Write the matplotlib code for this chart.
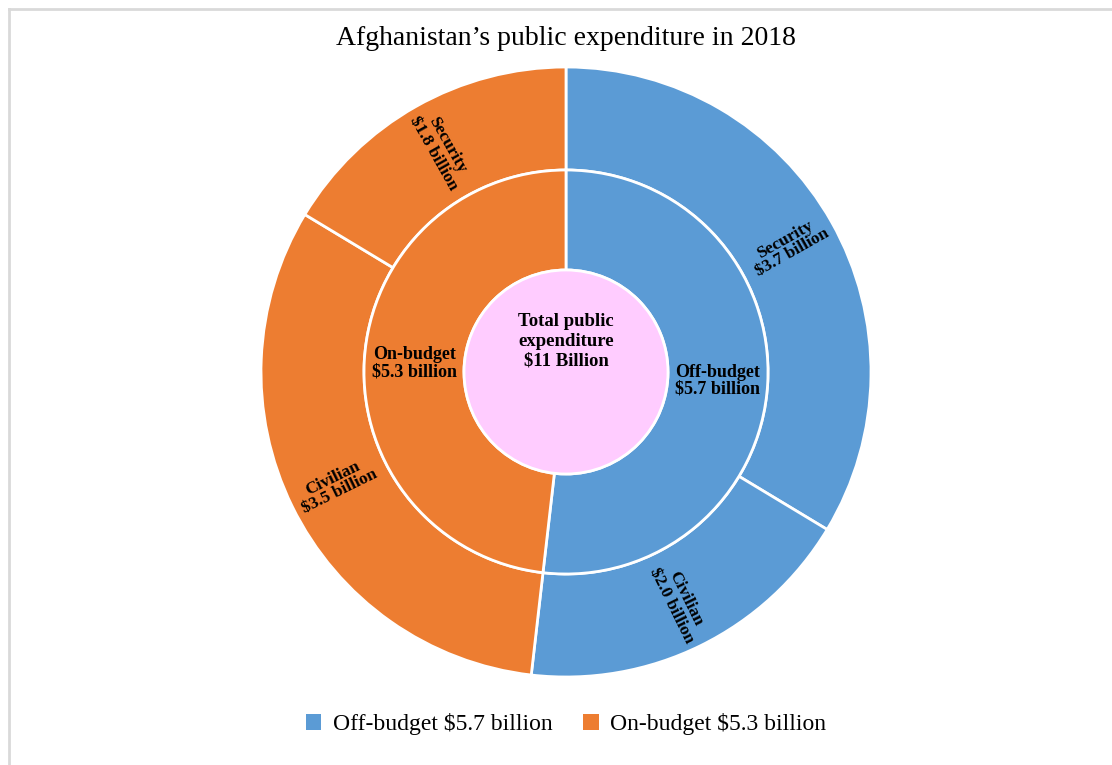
import numpy as np
import matplotlib.pyplot as plt
from matplotlib.patches import Patch, Circle
from matplotlib.lines import Line2D

# data
title = 'Afghanistan\u2019s public expenditure in 2018'
inner_names = ['Off-budget', 'On-budget']
inner_values = [5.7, 5.3]
outer_names = ['Security', 'Civilian', 'Civilian', 'Security']
outer_values = [3.7, 2.0, 3.5, 1.8]
outer_parent = [0, 0, 1, 1]
total_value = 11
center_text = 'Total public\nexpenditure\n$11 Billion'

# style
colors = ['#5B9BD5', '#ED7D31']
pink = '#FFCCFF'
serif = ['Liberation Serif', 'DejaVu Serif']

W, H = 1112, 765
cx, cy = 566, 765 - 372
r_out, r_mid, r_in = 305, 202, 102

fig = plt.figure(figsize=(W / 100, H / 100), dpi=100)
ax = fig.add_axes([0, 0, 1, 1])

# outer ring
ax.pie(outer_values, radius=r_out, center=(cx, cy), startangle=90, counterclock=False,
       colors=[colors[p] for p in outer_parent],
       wedgeprops=dict(width=r_out - r_mid, edgecolor='white', linewidth=2))
# inner ring
ax.pie(inner_values, radius=r_mid, center=(cx, cy), startangle=90, counterclock=False,
       colors=colors,
       wedgeprops=dict(width=r_mid - r_in, edgecolor='white', linewidth=2))
ax.add_patch(Circle((cx, cy), r_in, facecolor=pink, edgecolor='white', linewidth=2, zorder=3))

ax.set_xlim(0, W)
ax.set_ylim(0, H)
ax.set_aspect('equal')
ax.axis('off')

# outer labels, radial
tot = sum(outer_values)
start = 0
for name, v in zip(outer_names, outer_values):
    mid = start + v / 2
    start += v
    ang = 90 - mid / tot * 360
    ang = (ang + 180) % 360 - 180
    rot = ang if abs(ang) <= 90 else ang - 180
    r = 256
    x = cx + r * np.cos(np.radians(ang))
    y = cy + r * np.sin(np.radians(ang))
    ax.text(x, y, '%s\n$%.1f billion' % (name, v), rotation=rot, rotation_mode='anchor',
            ha='center', va='center', fontsize=12.5, fontweight='bold', family=serif,
            linespacing=0.95, zorder=4)

# inner labels
tot = sum(inner_values)
start = 0
for name, v in zip(inner_names, inner_values):
    mid = start + v / 2
    start += v
    ang = 90 - mid / tot * 360
    r = (r_mid + r_in) / 2
    x = cx + r * np.cos(np.radians(ang))
    y = cy + r * np.sin(np.radians(ang))
    ax.text(x, y, '%s\n$%.1f billion' % (name, v), ha='center', va='center',
            fontsize=13, fontweight='bold', family=serif, linespacing=1.0, zorder=4)

ax.text(cx, cy + 31, center_text, ha='center', va='center', fontsize=13.5,
        fontweight='bold', family=serif, linespacing=1.2, zorder=4)

ax.text(cx, H - 38, title, ha='center', va='center', fontsize=20, family=serif)

handles = [Patch(facecolor=colors[i], label='%s $%.1f billion' % (inner_names[i], inner_values[i]))
           for i in range(2)]
fig.legend(handles=handles, loc='center', bbox_to_anchor=(cx / W, 41 / H), ncol=2,
           frameon=False, prop=dict(family=serif, size=17), handlelength=0.65,
           handleheight=0.65, handletextpad=0.5, columnspacing=1.3)

# thin frame on top and left
fig.add_artist(Line2D([8.5 / W, 8.5 / W], [0, 1 - 8.5 / H], color='#d9d9d9', lw=2))
fig.add_artist(Line2D([8.5 / W, 1], [1 - 8.5 / H, 1 - 8.5 / H], color='#d9d9d9', lw=2))

fig.savefig('out.png', dpi=100)
